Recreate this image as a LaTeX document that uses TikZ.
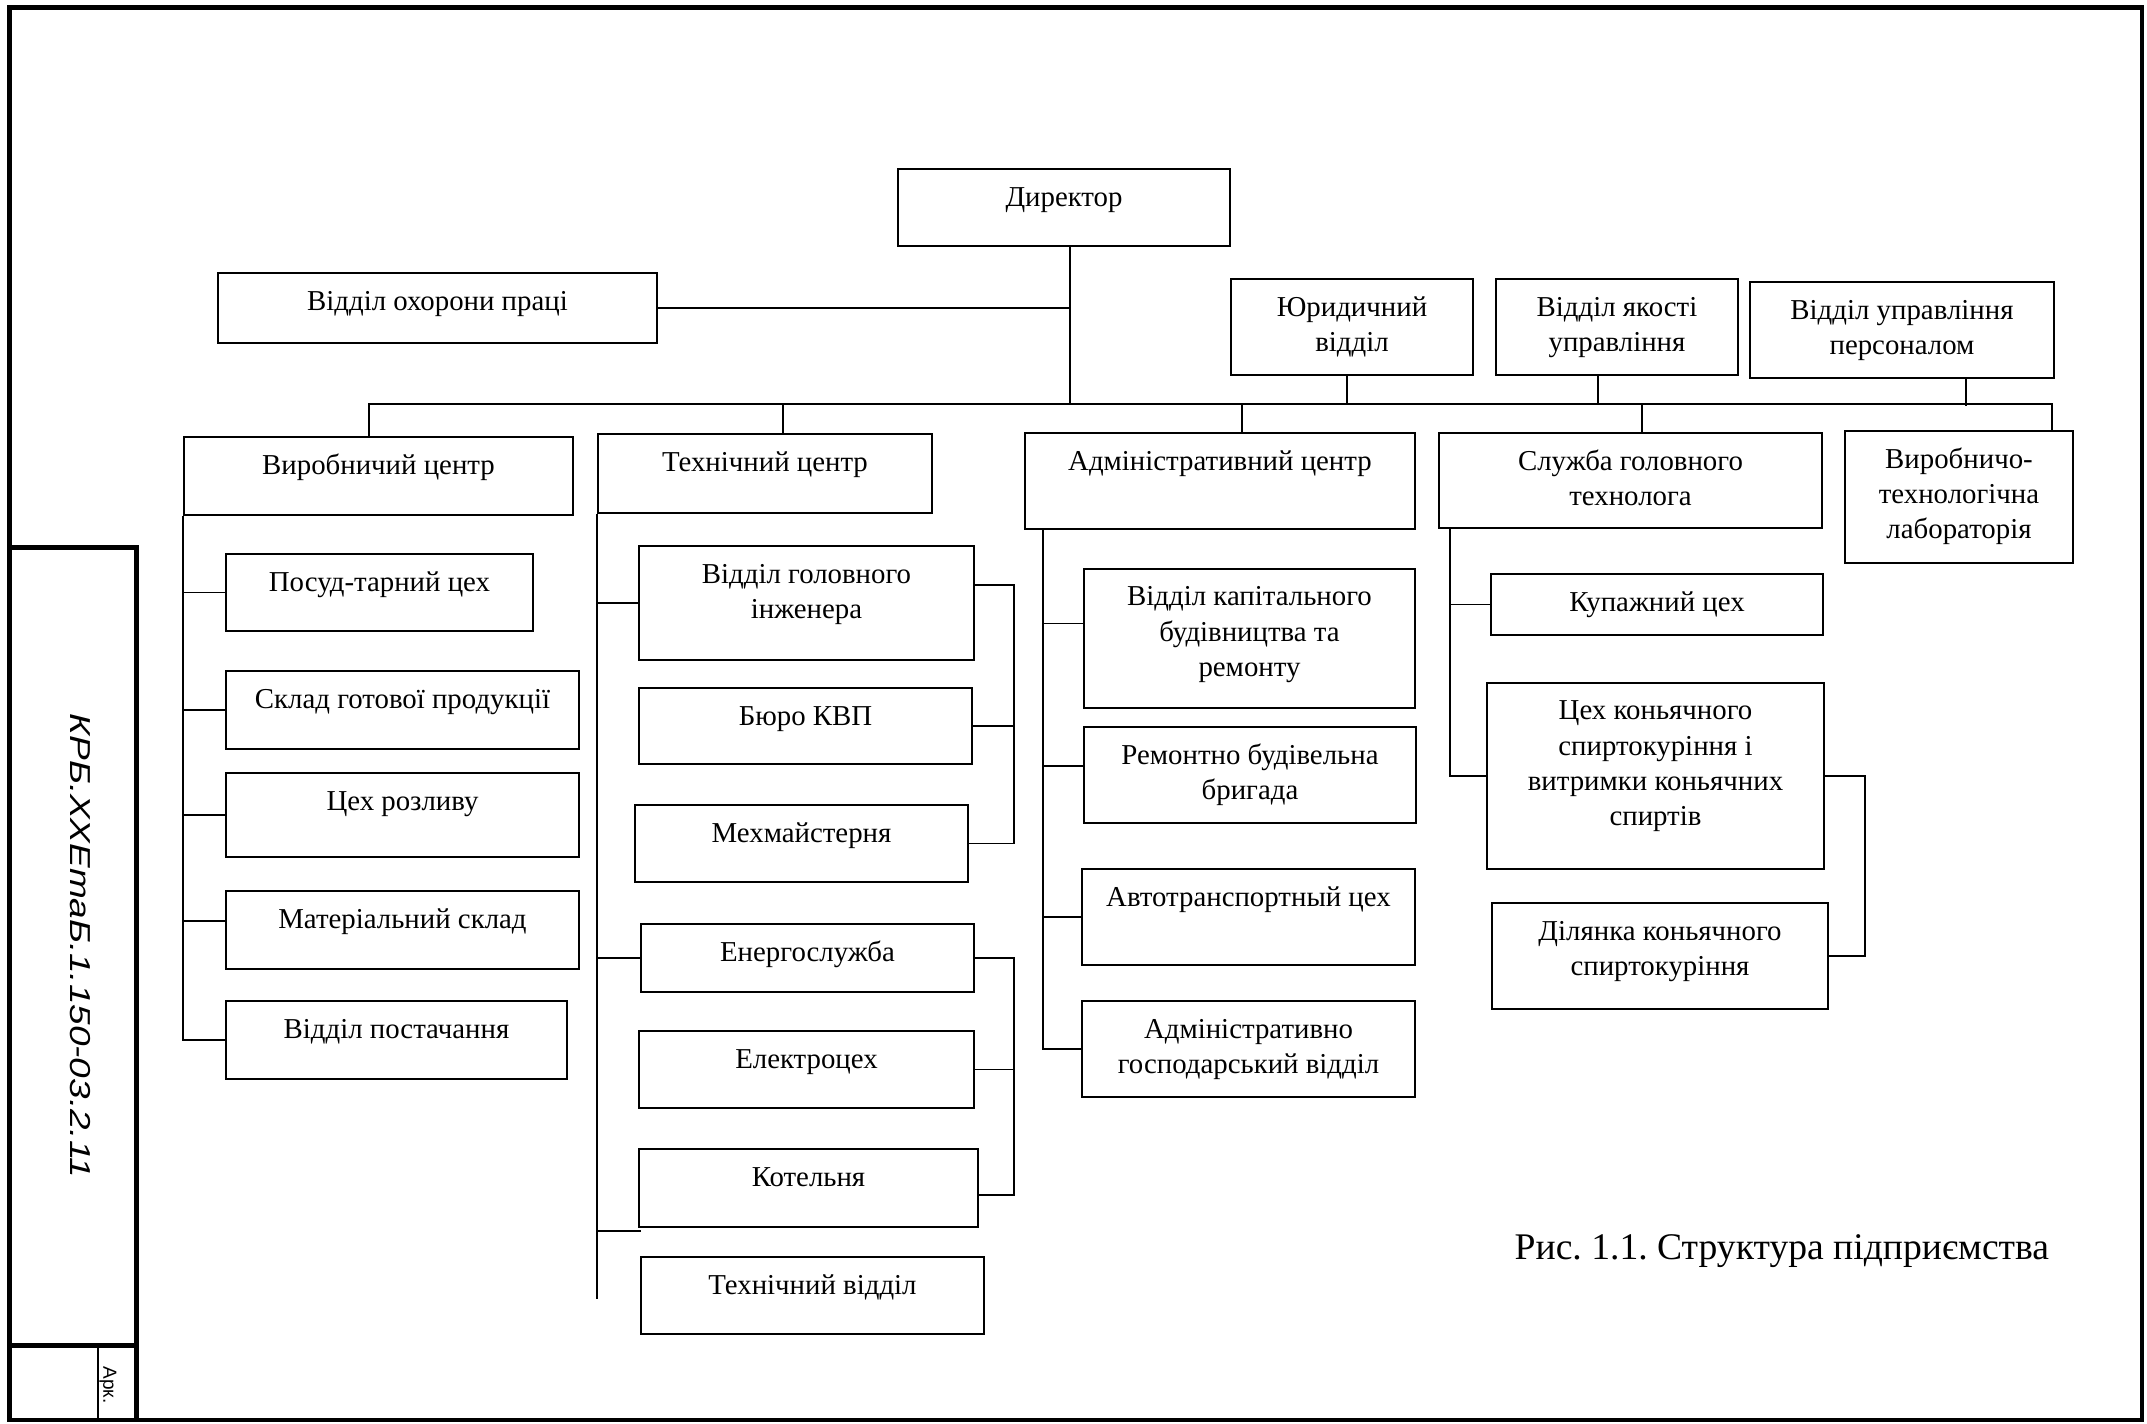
\documentclass[tikz,border=0pt]{standalone}
\usepackage{fontspec}
\setmainfont{Liberation Serif}
\newfontfamily\stampfont{Liberation Sans}
\frenchspacing

% box text: width, height (cm), lines
\newcommand{\bt}[3]{\parbox[c][#2cm][t]{#1cm}{\centering\rule{0pt}{0.37cm}#3}}

\tikzset{
  box/.style={draw, line width=0.6pt, inner sep=0pt, font=\fontsize{8.2}{10}\selectfont},
  ln/.style={line width=0.5pt},
  frame/.style={line width=1.3pt},
}

\begin{document}
\begin{tikzpicture}[x=0.01cm,y=-0.01cm]
\useasboundingbox (0,0) rectangle (2147,1423);

%--- sheet frame -----------------------------------
\draw[frame] (9.7,7.7) rectangle (2142,1420);
\draw[frame] (9.7,547.6) -- (136.5,547.6) -- (136.5,1420);
\draw[frame] (9.7,1345.5) -- (136.5,1345.5);
\draw[ln] (98.3,1345.5) -- (98.3,1420);
\node[rotate=-90, inner sep=0pt, font=\stampfont\itshape\fontsize{8.2}{9.8}\selectfont] (code) at (80,946) {\scalebox{1.28}[1]{КРБ.ХХЕтаБ.1.150-03.2.11}};
\node[rotate=-90, inner sep=0pt, font=\stampfont\fontsize{5.4}{6}\selectfont] (ark) at (108,1385) {Арк.};

%--- top level -------------------------------------
\node[box] (dir)  at (1064,207.5) {\bt{3.32}{0.77}{Директор}};
\node[box] (ohor) at (437.5,308)  {\bt{4.39}{0.70}{Відділ охорони праці}};
\node[box] (yur)  at (1352,327)   {\bt{2.42}{0.96}{Юридичний\\відділ}};
\node[box] (yak)  at (1617,327)   {\bt{2.42}{0.96}{Відділ якості\\управління}};
\node[box] (pers) at (1902,330)   {\bt{3.04}{0.96}{Відділ управління\\персоналом}};

\node[box] (vyr)  at (378.5,476)  {\bt{3.89}{0.78}{Виробничий центр}};
\node[box] (tech) at (765,473.5)  {\bt{3.34}{0.79}{Технічний центр}};
\node[box] (adm)  at (1220,481)   {\bt{3.90}{0.96}{Адміністративний центр}};
\node[box] (slg)  at (1630.5,480.5) {\bt{3.83}{0.95}{Служба головного\\технолога}};
\node[box] (lab)  at (1959,497)   {\bt{2.28}{1.32}{Виробничо-\\технологічна\\лабораторія}};

%--- production centre -----------------------------
\node[box] (posud) at (379.5,592.5) {\bt{3.07}{0.77}{Посуд-тарний цех}};
\node[box] (sklad) at (402.5,710)   {\bt{3.53}{0.78}{Склад готової продукції}};
\node[box] (rozl)  at (402.5,815)   {\bt{3.53}{0.84}{Цех розливу}};
\node[box] (mat)   at (402.5,930)   {\bt{3.53}{0.78}{Матеріальний склад}};
\node[box] (post)  at (396.5,1040)  {\bt{3.41}{0.78}{Відділ постачання}};

%--- technical centre ------------------------------
\node[box] (vgi)   at (806.5,603)   {\bt{3.35}{1.14}{Відділ головного\\інженера}};
\node[box] (kvp)   at (805.5,726)   {\bt{3.33}{0.76}{Бюро КВП}};
\node[box] (mekh)  at (801.5,843.5) {\bt{3.33}{0.77}{Мехмайстерня}};
\node[box] (energ) at (807.5,958)   {\bt{3.33}{0.68}{Енергослужба}};
\node[box] (elek)  at (806.5,1069.5) {\bt{3.35}{0.77}{Електроцех}};
\node[box] (kotel) at (808.5,1188)  {\bt{3.39}{0.78}{Котельня}};
\node[box] (techv) at (812.5,1295.5) {\bt{3.43}{0.77}{Технічний відділ}};

%--- administrative centre -------------------------
\node[box] (kap)  at (1249.5,638.5) {\bt{3.31}{1.39}{Відділ капітального\\будівництва та\\ремонту}};
\node[box] (rem)  at (1250,775)     {\bt{3.32}{0.96}{Ремонтно будівельна\\бригада}};
\node[box] (avto) at (1248.5,917)   {\bt{3.33}{0.96}{Автотранспортный цех}};
\node[box] (gosp) at (1248.5,1049)  {\bt{3.33}{0.96}{Адміністративно\\господарський відділ}};

%--- chief technologist ----------------------------
\node[box] (kup) at (1657,604.5)  {\bt{3.32}{0.61}{Купажний цех}};
\node[box] (kon) at (1655.5,776)  {\bt{3.37}{1.86}{Цех коньячного\\спиртокуріння і\\витримки коньячних\\спиртів}};
\node[box] (dil) at (1660,956)    {\bt{3.36}{1.06}{Ділянка коньячного\\спиртокуріння}};

\node[anchor=base west, inner sep=0pt, font=\fontsize{10.7}{13}\selectfont] (caption) at (1514,1259) {Рис. 1.1. Структура підприємства};

%--- main bus --------------------------------------
\coordinate (bus)   at (1070,404);
\coordinate (bVyr)  at (369,404);
\coordinate (bTech) at (783,404);
\coordinate (bAdm)  at (1242,404);
\coordinate (bYur)  at (1347,404);
\coordinate (bYak)  at (1598,404);
\coordinate (bSlg)  at (1642,404);
\coordinate (bPers) at (1966,404);
\coordinate (bLab)  at (2052,404);

\draw[ln] (dir.south -| bus) -- (bus);
\draw[ln] (ohor.east) -- (ohor.east -| bus);
\draw[ln] (bVyr |- vyr.north) -- (bVyr) -- (bLab) -- (bLab |- lab.north);
\draw[ln] (bTech) -- (bTech |- tech.north);
\draw[ln] (bAdm) -- (bAdm |- adm.north);
\draw[ln] (bYur |- yur.south) -- (bYur);
\draw[ln] (bYak |- yak.south) -- (bYak);
\draw[ln] (bPers |- pers.south) -- ([yshift=-0.02cm]bPers);
\draw[ln] (bSlg) -- (bSlg |- slg.north);

%--- production centre links -----------------------
\path ([yshift=0.09cm]mat.west) coordinate (matIn);
\draw[ln] (vyr.south west) -- (vyr.south west |- post.west) -- (post.west);
\draw[ln] (vyr.south west |- posud.west) -- (posud.west);
\draw[ln] (vyr.south west |- sklad.west) -- (sklad.west);
\draw[ln] (vyr.south west |- rozl.west) -- (rozl.west);
\draw[ln] (vyr.south west |- matIn) -- (matIn);

%--- technical centre links ------------------------
\coordinate (techEnd)  at (598,1299);
\coordinate (techStub) at (641,1231);
\coordinate (brA) at (1014,0);
\path ([yshift=0.18cm]vgi.east) coordinate (vgiOut);
\path ([yshift=-0.07cm]kotel.east) coordinate (kotOut);
\draw[ln] (tech.south west) -- (tech.south west |- techEnd);
\draw[ln] (tech.south west |- vgi.west) -- (vgi.west);
\draw[ln] (tech.south west |- energ.west) -- (energ.west);
\draw[ln] (tech.south west |- techStub) -- (techStub);
\draw[ln] (vgiOut) -- (vgiOut -| brA) -- (mekh.east -| brA) -- (mekh.east);
\draw[ln] (kvp.east) -- (kvp.east -| brA);
\draw[ln] (energ.east) -- (energ.east -| brA) -- (kotOut -| brA) -- (kotOut);
\draw[ln] (elek.east) -- (elek.east -| brA);

%--- administrative centre links -------------------
\path ([xshift=0.19cm]adm.south west) coordinate (admV);
\path ([yshift=0.15cm]kap.west) coordinate (kapIn);
\path ([yshift=0.09cm]rem.west) coordinate (remIn);
\draw[ln] (admV) -- (admV |- gosp.west) -- (gosp.west);
\draw[ln] (admV |- kapIn) -- (kapIn);
\draw[ln] (admV |- remIn) -- (remIn);
\draw[ln] (admV |- avto.west) -- (avto.west);

%--- chief technologist links ----------------------
\path ([xshift=0.12cm]slg.south west) coordinate (slgV);
\coordinate (brK) at (1865,0);
\draw[ln] (slgV) -- (slgV |- kon.west) -- (kon.west);
\draw[ln] (slgV |- kup.west) -- (kup.west);
\draw[ln] (kon.east) -- (kon.east -| brK) -- (dil.east -| brK) -- (dil.east);

\end{tikzpicture}
\end{document}
